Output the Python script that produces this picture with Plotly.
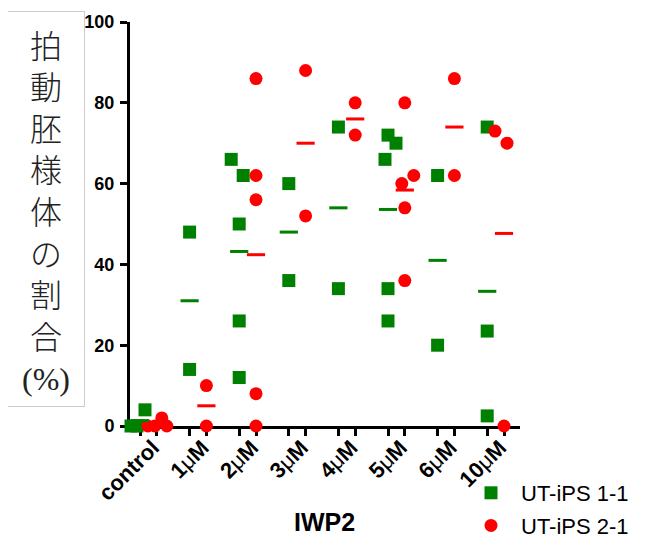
import numpy as np
import plotly.graph_objects as go

# ---- data ----
groups = ["control", "1μM", "2μM", "3μM", "4μM", "5μM", "6μM", "10μM"]
series_names = ["UT-iPS 1-1", "UT-iPS 2-1"]
ips11_values = [
    [0, 0, 4],
    [48, 14],
    [66, 62, 50, 26, 12],
    [60, 36],
    [74, 34],
    [72, 70, 66, 34, 26],
    [62, 20],
    [74, 23.5, 2.5],
]
ips21_values = [
    [0, 0, 2, 0],
    [10, 0],
    [86, 62, 56, 8, 0],
    [88, 52],
    [80, 72],
    [80, 62, 60, 54, 36],
    [86, 62],
    [73, 70, 0],
]
y_ticks = [0, 20, 40, 60, 80, 100]

# ---- layout constants (horizontal spread of overlapping dots, in px) ----
GROUP_PX = 49.6
RED_SHIFT = 16.8 / GROUP_PX
ips11_spread_px = [[-9, -3, 5], [0, 0], [-8, 4, 0, 0, 0], [0, 0], [0, 0],
                   [0, 8, -3, 0, 0], [0, 0], [0, 0, 0]]
ips21_spread_px = [[-9, -2, 5, 10], [0, 0], [0, 0, 0, 0, 0], [0, 0], [0, 0],
                   [0, 9, -3, 0, 0], [0, 0], [-9, 3, 0]]

GREEN = "#008000"
RED = "#ff0000"


def build(values, spread, shift):
    xs, ys, mx, my = [], [], [], []
    for i, (vals, sp) in enumerate(zip(values, spread)):
        base = i + shift
        for v, s in zip(vals, sp):
            xs.append(base + s / GROUP_PX)
            ys.append(v)
        mx.append(base)
        my.append(float(np.mean(vals)))
    return xs, ys, mx, my


gx, gy, gmx, gmy = build(ips11_values, ips11_spread_px, 0.0)
rx, ry, rmx, rmy = build(ips21_values, ips21_spread_px, RED_SHIFT)

fig = go.Figure()
fig.add_trace(go.Scatter(x=gx, y=gy, mode="markers", name=series_names[0],
                         legendgroup="a",
                         marker=dict(symbol="square", size=13, color=GREEN),
                         cliponaxis=False))
fig.add_trace(go.Scatter(x=rx, y=ry, mode="markers", name=series_names[1],
                         legendgroup="b",
                         marker=dict(symbol="circle", size=13, color=RED),
                         cliponaxis=False))
fig.add_trace(go.Scatter(x=gmx, y=gmy, mode="markers", showlegend=False,
                         marker=dict(symbol="line-ew", size=13,
                                     line=dict(color=GREEN, width=3)),
                         cliponaxis=False))
fig.add_trace(go.Scatter(x=rmx, y=rmy, mode="markers", showlegend=False,
                         marker=dict(symbol="line-ew", size=13,
                                     line=dict(color=RED, width=3)),
                         cliponaxis=False))

tickvals, ticktext = [], []
for i, g in enumerate(groups):
    tickvals += [i, i + RED_SHIFT]
    lab = g.replace("μ", "<span style='font-weight:normal'>μ</span>")
    ticktext += ["", lab]

# page body has an 8px margin; reference pixel coords are shifted by it
OFF = 8
W, H = 654 - OFF, 547 - OFF
L, T = 130 - OFF, 22 - OFF
plot_w = 520 - 130
plot_h = 426 - 22
R = W - L - plot_w
B = H - T - plot_h


def px_x(px):
    return (px - 130) / plot_w


def px_y(py):
    return (426 - py) / plot_h


x0 = -10 / GROUP_PX
x1 = x0 + plot_w / GROUP_PX

fig.update_layout(
    width=W, height=H,
    margin=dict(l=L, r=R, t=T, b=B, pad=0, autoexpand=False),
    plot_bgcolor="white", paper_bgcolor="white",
    font=dict(family="Liberation Sans, Arial", color="black"),
    xaxis=dict(range=[x0, x1], tickmode="array", tickvals=tickvals,
               ticktext=ticktext, tickangle=-45, ticks="outside", ticklen=7,
               tickwidth=3, tickcolor="black", showline=True, linewidth=3,
               linecolor="black", showgrid=False, zeroline=False,
               ticklabelstandoff=-10, ticklabelshift=-4,
               tickfont=dict(size=22, weight="bold"), layer="below traces"),
    yaxis=dict(range=[0, 100], tickmode="array", tickvals=y_ticks,
               ticks="outside", ticklen=7, tickwidth=3, tickcolor="black",
               showline=True, linewidth=3, linecolor="black", showgrid=False,
               zeroline=False, tickfont=dict(size=18, weight="bold"),
               ticklabelstandoff=2, layer="below traces"),
    legend=dict(x=px_x(461), y=px_y(OFF + H), xanchor="left",
                yanchor="bottom", font=dict(size=22), itemwidth=50,
                bgcolor="rgba(0,0,0,0)", tracegroupgap=1),
    showlegend=True,
)

fig.add_annotation(text="IWP2", xref="paper", yref="paper", x=px_x(324),
                   y=px_y(521.5), xanchor="center", yanchor="middle",
                   showarrow=False, font=dict(size=25, weight="bold"))

ytitle = "<br>".join(list("拍動胚様体の割合")) + \
    "<br><span style='font-family:Liberation Serif'>(%)</span>"
fig.add_annotation(text=ytitle, xref="paper", yref="paper",
                   x=px_x(46), y=px_y(209),
                   xanchor="center", yanchor="middle", showarrow=False,
                   width=76, height=394, borderpad=0, bordercolor="#cccccc",
                   borderwidth=1, align="center", valign="middle",
                   font=dict(family="Noto Sans CJK JP", size=32, color="#222222",
                             weight=300))

fig.write_html("out.html")
